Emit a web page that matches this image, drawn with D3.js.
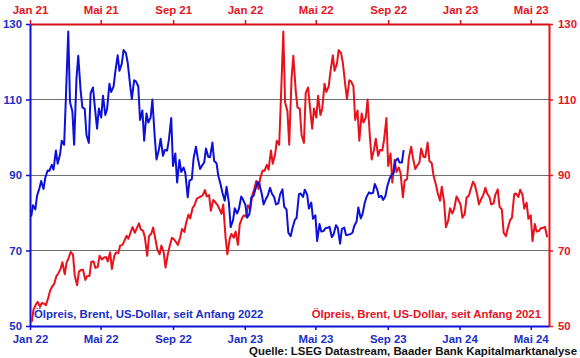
<!DOCTYPE html>
<html><head><meta charset="utf-8">
<script src="https://cdn.jsdelivr.net/npm/d3@7"></script>
<style>
html,body{margin:0;padding:0;background:#fff;}
svg{display:block;font-family:"Liberation Sans",Arial,sans-serif;font-weight:bold;}
</style></head>
<body><svg id="c" width="580" height="358"></svg>
<script>
// Brent, USD, twice weekly (Mon/Thu) — 2021 starts Mon 4 Jan, 2022 Mon 3 Jan, 2023 Mon 2 Jan
const brent2021 = [51.1,54.4, 55.7,56.4, 55.1,56.1, 55.9,55.5, 57.5,59.3, 60.6,61.1, 63.3,63.9, 65.2,66.9,
  63.7,66.7, 68.2,69.6, 68.9,63.3, 60.8,64.4, 64.9,64.9, 62.2,63.2, 63.3,67.0, 67.1,65.4, 65.7,68.6,
  67.6,68.1, 68.3,67.1, 69.5,65.1, 68.5,69.5, 69.3,71.3, 71.5,72.5, 73.9,73.1, 74.9,76.2, 74.7,75.8,
  77.2,75.6, 75.2,73.5, 68.6,73.8, 74.5,76.1, 72.9,70.3, 69.0,71.3, 69.5,65.5, 69.0,71.1, 73.4,73.0,
  72.2,71.5, 73.5,75.7, 74.9,77.3, 79.5,78.5, 81.3,81.9, 83.7,84.0, 84.3,84.6, 86.0,84.3, 84.7,80.5,
  83.4,82.9, 82.1,81.2, 79.7,82.2, 73.4,69.0, 73.1,74.4, 73.4,75.0, 71.5,76.9, 78.6,79.3];
const brent2022 = [79.0,82.0, 80.9,84.5, 86.5,88.4, 86.3,89.3, 91.2,91.1, 92.7,91.4, 96.5,93.0, 95.4,99.1,
  98.0,110.5, 128.0,109.3, 106.9,98.0, 115.6,121.6, 112.5,107.9, 107.5,100.6, 98.5,111.7, 113.2,108.3,
  102.3,107.6, 105.2,111.0, 105.9,107.5, 114.2,112.0, 113.4,117.4, 121.7,117.6, 119.5,123.1, 122.3,119.8,
  114.1,110.1, 115.1,114.8, 113.5,104.6, 107.1,99.1, 106.3,103.9, 105.2,110.0, 100.0,94.1, 96.7,99.6,
  95.1,96.6, 96.5,99.3, 105.1,92.4, 95.7,88.0, 94.0,90.8, 92.0,90.5, 84.1,88.5, 88.9,94.4, 97.5,94.6,
  91.6,92.4, 93.3,97.0, 94.8,94.7, 98.6,93.7, 93.1,89.8, 87.5,85.3, 83.2,86.9, 82.7,76.2, 78.0,81.2,
  79.8,81.0, 84.3,83.5];
const brent2023 = [82.1,78.7, 79.7,84.0, 84.5,86.2, 88.2,87.5, 84.9,82.2, 83.7,84.5, 86.6,85.1, 84.1,82.2,
  82.5,84.8, 86.2,81.6, 80.8,74.7, 73.8,75.9, 78.1,78.6, 84.9,85.1, 84.2,86.1, 84.8,81.1, 82.7,78.4,
  79.3,72.5, 77.0,75.0, 75.2,75.9, 76.0,76.3, 73.5,74.3, 76.7,76.0, 71.8,75.7, 76.1,74.1, 74.2,74.3,
  74.7,76.5, 77.7,81.4, 78.5,79.6, 82.7,84.2, 85.4,85.1, 85.3,87.6, 86.2,84.1, 84.5,83.4, 84.4,86.9,
  89.0,89.9, 90.6,93.7, 94.4,93.3, 93.3,96.6];

const topTickLabels = ["Jan 21","Mai 21","Sep 21","Jan 22","Mai 22","Sep 22","Jan 23","Mai 23"];
const bottomTickLabels = ["Jan 22","Mai 22","Sep 22","Jan 23","Mai 23","Sep 23","Jan 24","Mai 24"];
const yTicks = [50,70,90,110,130];
const gridValues = [70,90,110];
const labelBlue = "Ölpreis, Brent, US-Dollar, seit Anfang 2022";
const labelRed = "Ölpreis, Brent, US-Dollar, seit Anfang 2021";
const source = "Quelle: LSEG Datastream, Baader Bank Kapitalmarktanalyse";

const BLUE = "#0c10d8", RED = "#e8121c", BLUE_T = "#1a2fc4", RED_T = "#e5141f", RED_AX = "#d41016";
const L = 30, R = 549, T = 24, B = 326;

function build(values, start){
  return values.map((v,i)=>({date: d3.timeDay.offset(start, Math.floor(i/2)*7 + (i%2)*3), value: v}));
}
const d21 = build(brent2021, new Date(2021,0,4));
const d22 = build(brent2022, new Date(2022,0,3));
const d23 = build(brent2023, new Date(2023,0,2));
const redEnd = new Date(2023,4,31);
const redData = d21.concat(d22, d23).filter(d => d.date <= redEnd);
const blueData = d22.concat(d23);

const svg = d3.select("#c");
const xTop = d3.scaleTime().domain([new Date(2021,0,1), new Date(2023,5,1)]).range([L,R]);
const xBot = d3.scaleTime().domain([new Date(2022,0,1), new Date(2024,5,1)]).range([L,R]);
const y = d3.scaleLinear().domain([50,130]).range([B,T]);

const topTicks = topTickLabels.map((_,i)=>d3.timeMonth.offset(new Date(2021,0,1), i*4));
const botTicks = bottomTickLabels.map((_,i)=>d3.timeMonth.offset(new Date(2022,0,1), i*4));

// grid
svg.append("g").selectAll("line").data(gridValues).join("line")
  .attr("x1",L).attr("x2",R).attr("y1",d=>y(d)).attr("y2",d=>y(d))
  .attr("stroke","#6e6e6e").attr("stroke-width",1).attr("shape-rendering","crispEdges");

function styleAxis(g, color, textColor){
  g.select(".domain").attr("stroke",color).attr("stroke-width",2);
  g.selectAll(".tick line").attr("stroke",color).attr("stroke-width",1.5);
  g.selectAll(".tick text").attr("fill",textColor).attr("font-size","11.4px")
    .attr("font-weight","bold").attr("font-family","'Liberation Sans',Arial,sans-serif");
}

// top axis (red)
const gTop = svg.append("g").attr("transform",`translate(0,${T})`)
  .call(d3.axisTop(xTop).tickValues(topTicks).tickFormat((d,i)=>topTickLabels[i]).tickSize(4).tickSizeOuter(0).tickPadding(6));
styleAxis(gTop, RED_AX, RED_T);
// bottom axis (blue)
const gBot = svg.append("g").attr("transform",`translate(0,${B})`)
  .call(d3.axisBottom(xBot).tickValues(botTicks).tickFormat((d,i)=>bottomTickLabels[i]).tickSize(4).tickSizeOuter(0).tickPadding(5));
styleAxis(gBot, BLUE, BLUE_T);
// left axis (blue)
const gL = svg.append("g").attr("transform",`translate(${L},0)`)
  .call(d3.axisLeft(y).tickValues(yTicks).tickSize(4).tickSizeOuter(0).tickPadding(4));
styleAxis(gL, BLUE, BLUE_T);
// right axis (red)
const gR = svg.append("g").attr("transform",`translate(${R},0)`)
  .call(d3.axisRight(y).tickValues(yTicks).tickSize(4).tickSizeOuter(0).tickPadding(5));
styleAxis(gR, RED, RED_T);

// lines
svg.append("path").datum(redData)
  .attr("d", d3.line().x(d=>xTop(d.date)).y(d=>y(d.value)))
  .attr("fill","none").attr("stroke",RED).attr("stroke-width",2).attr("stroke-linejoin","round");
svg.append("path").datum(blueData)
  .attr("d", d3.line().x(d=>xBot(d.date)).y(d=>y(d.value)))
  .attr("fill","none").attr("stroke",BLUE).attr("stroke-width",2).attr("stroke-linejoin","round");

// labels
svg.append("text").attr("x",34).attr("y",318).attr("fill",BLUE_T).attr("font-size","11.4px").text(labelBlue);
svg.append("text").attr("x",541).attr("y",318).attr("text-anchor","end").attr("fill",RED_T).attr("font-size","11.4px").text(labelRed);
svg.append("text").attr("x",577).attr("y",355).attr("text-anchor","end").attr("fill","#111").attr("font-size","11.4px").text(source);
</script></body></html>
